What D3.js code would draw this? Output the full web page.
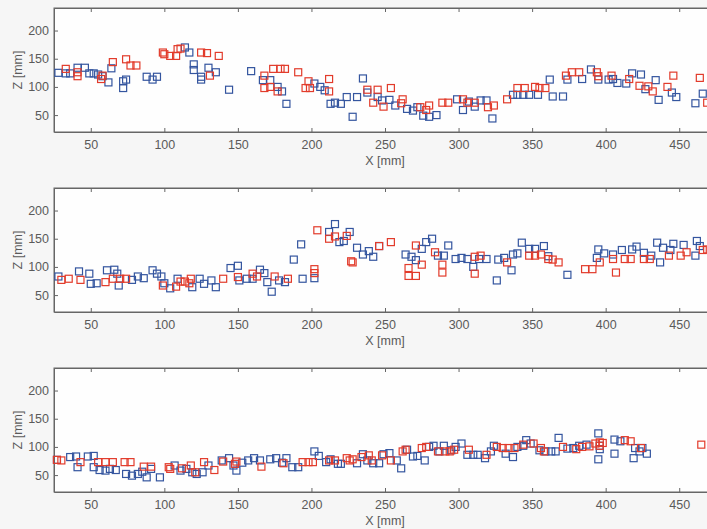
<!DOCTYPE html>
<html>
<head>
<meta charset="utf-8">
<script src="https://cdn.jsdelivr.net/npm/d3@7"></script>
<style>
  body { margin: 0; background: #f6f6f6; }
  svg { display: block; }
</style>
</head>
<body>
<div id="chart"></div>
<script>
// Three stacked scatter panels: X [mm] vs Z [mm], blue and red square markers

// Axis ticks
const xTicks = [50, 100, 150, 200, 250, 300, 350, 400, 450];
const zTicks = [50, 100, 150, 200];

// Panel 1 points [X, Z]
const panel1Blue = [
  [28,125],[33,124],[36,124],[41,134],[46,134],[49,124],[52,124],[55,122],[58,119],[62,108],
  [64,133],[72,98],[72,110],[74,113],[88,118],[92,113],[95,118],[114,170],[117,161],[120,140],
  [120,130],[125,118],[125,113],[130,134],[135,126],[144,95],[159,128],[167,112],[172,112],[177,100],
  [180,92],[183,70],[202,106],[206,100],[209,94],[213,70],[216,72],[220,70],[224,82],[228,47],
  [231,82],[235,115],[238,90],[245,82],[248,76],[253,77],[257,67],[265,61],[269,58],[272,64],
  [276,49],[280,47],[285,50],[299,78],[303,59],[307,74],[311,65],[315,76],[319,76],[323,44],
  [337,86],[340,86],[344,86],[348,86],[354,86],[362,113],[364,83],[371,83],[374,113],[384,114],
  [390,131],[395,113],[402,113],[405,114],[408,107],[414,106],[418,124],[424,122],[427,96],[434,112],
  [436,77],[445,90],[448,82],[461,71],[466,88]
];
const panel1Red = [
  [33,132],[41,126],[41,119],[57,114],[58,120],[65,144],[74,149],[77,138],[81,138],[99,161],
  [100,158],[104,155],[108,155],[109,167],[111,168],[125,161],[129,160],[131,120],[137,155],[168,120],
  [168,98],[172,100],[174,132],[177,92],[179,132],[182,132],[191,126],[196,98],[198,110],[199,98],
  [212,114],[212,92],[238,95],[242,72],[245,95],[249,65],[254,98],[261,71],[262,78],[274,64],
  [278,59],[280,67],[289,72],[293,72],[303,78],[306,72],[311,72],[320,64],[324,67],[333,78],
  [340,98],[345,98],[352,100],[355,98],[359,98],[373,120],[377,126],[382,126],[394,126],[395,119],
  [404,120],[416,114],[423,102],[429,101],[432,92],[442,100],[446,120],[464,116],[469,72]
];

// Panel 2 points [X, Z]
const panel2Blue = [
  [28,83],[42,92],[49,88],[50,70],[54,71],[61,94],[66,95],[68,88],[69,67],[78,77],
  [82,83],[86,80],[92,94],[95,88],[98,83],[100,71],[104,62],[109,79],[119,64],[124,79],
  [127,70],[132,76],[135,64],[145,98],[150,102],[151,76],[156,79],[160,79],[165,95],[168,89],
  [170,73],[173,56],[178,76],[182,73],[188,113],[193,140],[194,79],[202,80],[212,162],[216,176],
  [219,144],[222,146],[226,162],[231,134],[235,122],[239,128],[242,118],[246,137],[264,122],[268,118],
  [271,112],[275,132],[278,144],[282,150],[286,120],[290,120],[293,138],[298,114],[302,116],[306,114],
  [310,100],[314,114],[319,114],[326,76],[327,113],[331,116],[336,94],[337,122],[340,124],[343,143],
  [348,132],[352,132],[358,137],[361,119],[374,86],[394,116],[395,131],[399,124],[405,122],[411,130],
  [418,131],[421,136],[426,125],[431,120],[435,143],[437,108],[439,134],[444,130],[446,141],[453,139],
  [461,120],[462,146],[464,137]
];
const panel2Red = [
  [30,77],[35,79],[43,77],[60,73],[65,79],[70,79],[74,79],[99,67],[108,65],[111,74],
  [114,74],[117,71],[118,79],[140,79],[150,82],[160,88],[163,83],[175,83],[184,79],[202,96],
  [202,89],[204,165],[212,150],[216,154],[224,155],[228,108],[227,110],[246,137],[254,144],[266,98],
  [266,84],[271,84],[271,138],[275,104],[284,126],[289,104],[289,90],[311,118],[311,88],[315,120],
  [333,108],[348,120],[352,120],[356,122],[361,114],[364,113],[368,108],[386,96],[391,96],[396,108],
  [405,114],[407,90],[413,114],[417,114],[426,114],[430,114],[443,120],[451,120],[455,126],[466,130],
  [469,131]
];

// Panel 3 points [X, Z]
const panel3Blue = [
  [27,77],[36,82],[40,83],[41,64],[48,83],[52,84],[52,64],[56,59],[60,58],[63,61],
  [67,59],[74,52],[78,49],[82,52],[85,56],[88,46],[91,61],[97,46],[107,67],[111,58],
  [115,61],[119,55],[122,52],[126,55],[130,67],[139,76],[144,80],[147,67],[149,58],[153,72],
  [157,76],[161,80],[165,76],[172,78],[176,80],[180,72],[183,80],[187,64],[191,64],[202,92],
  [205,84],[210,73],[213,78],[218,70],[220,70],[231,71],[235,87],[238,76],[242,71],[246,71],
  [249,87],[253,89],[258,76],[261,62],[265,95],[269,83],[272,84],[277,76],[280,100],[283,102],
  [287,92],[290,102],[295,94],[298,100],[302,106],[306,86],[310,86],[313,86],[318,80],[322,92],
  [324,102],[332,88],[337,82],[340,100],[344,102],[346,112],[349,106],[355,94],[359,92],[363,92],
  [366,92],[368,116],[374,97],[378,98],[382,102],[387,104],[395,124],[395,78],[396,96],[396,102],
  [406,88],[406,113],[410,110],[419,80],[420,98],[423,92],[425,98],[428,88]
];
const panel3Red = [
  [27,77],[30,76],[43,73],[55,73],[60,73],[65,73],[73,73],[77,73],[86,65],[91,65],
  [103,64],[104,61],[112,62],[118,67],[121,55],[127,73],[134,59],[140,74],[148,70],[149,74],
  [166,65],[181,71],[194,73],[198,73],[201,73],[212,76],[216,76],[224,80],[228,78],[226,76],
  [234,82],[239,85],[241,76],[248,85],[254,76],[262,92],[264,95],[275,98],[278,100],[286,92],
  [291,92],[294,92],[297,95],[307,95],[319,86],[326,100],[330,98],[334,98],[338,98],[344,104],
  [351,106],[356,98],[358,92],[371,100],[380,96],[384,100],[389,101],[393,106],[396,108],[396,102],
  [398,107],[413,112],[417,110],[424,98],[465,104]
];

const panels = [
  { top: 8, blue: panel1Blue, red: panel1Red },
  { top: 188, blue: panel2Blue, red: panel2Red },
  { top: 368, blue: panel3Blue, red: panel3Red }
];

const width = 707;
const height = 529;
const plotLeft = 54;
const plotRight = 716;
const plotHeight = 124;

const blueColor = "#34559f";
const redColor = "#e23b2b";
const markerSize = 7;

const svg = d3.select("#chart")
  .append("svg")
  .attr("width", width)
  .attr("height", height)
  .style("font-family", "'Liberation Sans', Arial, sans-serif");

svg.append("rect")
  .attr("width", width)
  .attr("height", height)
  .attr("fill", "#f6f6f6");

const x = d3.scaleLinear().domain([25, 475]).range([plotLeft, plotRight]);

panels.forEach(function (p) {
  const y = d3.scaleLinear().domain([20, 240]).range([p.top + plotHeight, p.top]);
  const g = svg.append("g");

  // plot area
  g.append("rect")
    .attr("x", plotLeft)
    .attr("y", p.top)
    .attr("width", plotRight - plotLeft)
    .attr("height", plotHeight)
    .attr("fill", "#fefefe")
    .attr("stroke", "#666")
    .attr("stroke-width", 1);

  // bottom axis (ticks point inward)
  const xAxis = g.append("g")
    .attr("transform", `translate(0,${p.top + plotHeight})`)
    .call(d3.axisBottom(x).tickValues(xTicks).tickSizeInner(-4).tickSizeOuter(0).tickPadding(8));

  // top ticks
  const xTop = g.append("g")
    .attr("transform", `translate(0,${p.top})`)
    .call(d3.axisTop(x).tickValues(xTicks).tickSizeInner(-4).tickSizeOuter(0).tickFormat(""));

  // left axis
  const yAxis = g.append("g")
    .attr("transform", `translate(${plotLeft},0)`)
    .call(d3.axisLeft(y).tickValues(zTicks).tickSizeInner(-4).tickSizeOuter(0).tickPadding(5));

  [xAxis, xTop, yAxis].forEach(function (a) {
    a.select(".domain").attr("stroke", "#666");
    a.selectAll(".tick line").attr("stroke", "#666");
    a.selectAll(".tick text")
      .attr("fill", "#5a5a5a")
      .style("font-size", "12.5px");
  });

  // axis labels
  g.append("text")
    .attr("x", (plotLeft + plotRight) / 2)
    .attr("y", p.top + plotHeight + 33)
    .attr("text-anchor", "middle")
    .attr("fill", "#5a5a5a")
    .style("font-size", "12.5px")
    .text("X [mm]");

  g.append("text")
    .attr("transform", `translate(22,${p.top + plotHeight / 2}) rotate(-90)`)
    .attr("text-anchor", "middle")
    .attr("fill", "#5a5a5a")
    .style("font-size", "12.5px")
    .text("Z [mm]");

  // markers
  const drawSeries = function (data, color) {
    g.append("g")
      .selectAll("rect")
      .data(data)
      .join("rect")
      .attr("x", d => x(d[0]) - markerSize / 2)
      .attr("y", d => y(d[1]) - markerSize / 2)
      .attr("width", markerSize)
      .attr("height", markerSize)
      .attr("fill", "none")
      .attr("stroke", color)
      .attr("stroke-width", 1.2);
  };
  drawSeries(p.blue, blueColor);
  drawSeries(p.red, redColor);
});
</script>
</body>
</html>
